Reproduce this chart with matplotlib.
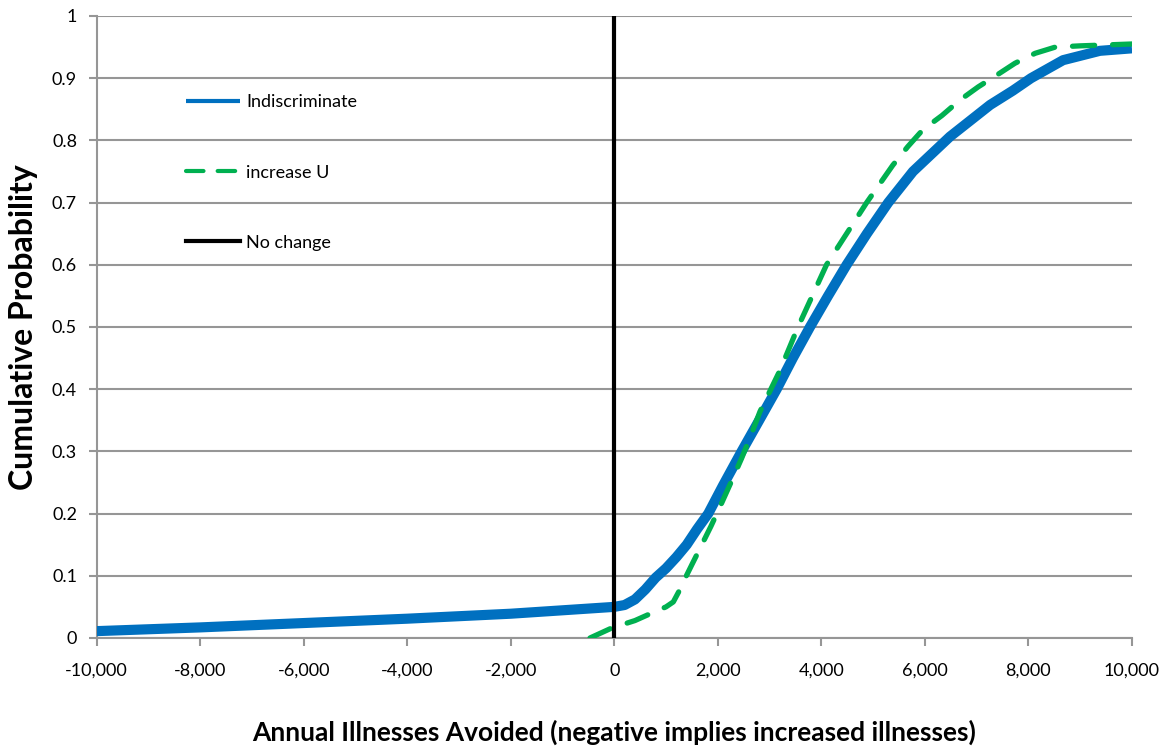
import matplotlib
matplotlib.use('Agg')
import matplotlib.pyplot as plt
from matplotlib.ticker import FuncFormatter

plt.rcParams['font.family'] = ['Lato', 'DejaVu Sans']

# values
indisc_x = [-10000, -8000, -6000, -4000, -2000, 0, 200, 400, 600, 800, 1000, 1200,
            1400, 1600, 1816, 2100, 2461, 2800, 3138, 3450, 3781, 4130, 4489, 4880,
            5293, 5770, 6484, 7260, 7700, 8050, 8670, 9380, 10000]
indisc_p = [0.011, 0.017, 0.024, 0.031, 0.039, 0.05, 0.053, 0.062, 0.078, 0.097, 0.112, 0.13,
            0.15, 0.175, 0.2, 0.245, 0.3, 0.35, 0.4, 0.45, 0.5, 0.55, 0.6, 0.65,
            0.7, 0.75, 0.806, 0.857, 0.88, 0.9, 0.929, 0.944, 0.948]

incu_x = [-468, -49, 400, 723, 1000, 1141, 1250, 1334, 1500, 1656, 1870, 2075, 2270,
          2461, 2640, 2815, 3200, 3550, 4100, 4876, 5380, 5670, 5960, 6330, 6680,
          7030, 7390, 7740, 8130, 8520, 9000, 10000]
incu_p = [0.0, 0.016, 0.028, 0.04, 0.05, 0.058, 0.075, 0.09, 0.118, 0.144, 0.18, 0.217, 0.253,
          0.289, 0.326, 0.364, 0.43, 0.5, 0.6, 0.7, 0.76, 0.79, 0.817, 0.84, 0.865,
          0.886, 0.905, 0.924, 0.94, 0.95, 0.952, 0.955]

nochange_x = [0, 0]
nochange_p = [0, 1]

xticks = list(range(-10000, 10001, 2000))
yticks = [round(0.1 * i, 1) for i in range(11)]

fig = plt.figure(figsize=(11.69, 7.51), dpi=100)
ax = fig.add_axes([0.0826, 0.1505, 0.8857, 0.8282])

for y in yticks:
    ax.axhline(y, color='#969696', lw=1.5, zorder=0)

ax.plot(indisc_x, indisc_p, color='#0070C0', lw=7.3, solid_capstyle='butt',
        solid_joinstyle='round', label='Indiscriminate', zorder=3)
ax.plot(incu_x, incu_p, color='#00B050', lw=3.8, dashes=(4.2, 3.4),
        dash_capstyle='round', label='increase U', zorder=4)
ax.plot(nochange_x, nochange_p, color='black', lw=3, label='No change', zorder=5)

ax.set_xlim(-10000, 10000)
ax.set_ylim(0, 1)
ax.set_xticks(xticks)
ax.set_yticks(yticks)
ax.xaxis.set_major_formatter(FuncFormatter(lambda v, p: f'{int(v):,}'))
ax.yaxis.set_major_formatter(FuncFormatter(lambda v, p: f'{v:g}'))
ax.tick_params(axis='both', labelsize=13, color='#969696', width=1.5, length=6)
ax.tick_params(axis='x', pad=12)
ax.tick_params(axis='y', pad=8)

for s in ['top', 'right']:
    ax.spines[s].set_visible(False)
for s in ['left', 'bottom']:
    ax.spines[s].set_color('#969696')
    ax.spines[s].set_linewidth(1.5)

ax.set_xlabel('Annual Illnesses Avoided (negative implies increased illnesses)',
              fontsize=19, fontweight='bold', labelpad=29)
ax.set_ylabel('Cumulative Probability', fontsize=23, fontweight='bold', labelpad=10)

leg = ax.legend(loc='upper left', bbox_to_anchor=(0.071, 0.90), frameon=False,
                fontsize=13, labelspacing=3.0, handlelength=3.0, handletextpad=0.3)
for h in leg.get_lines():
    h.set_linewidth(3)

fig.savefig('out.png', dpi=100)
